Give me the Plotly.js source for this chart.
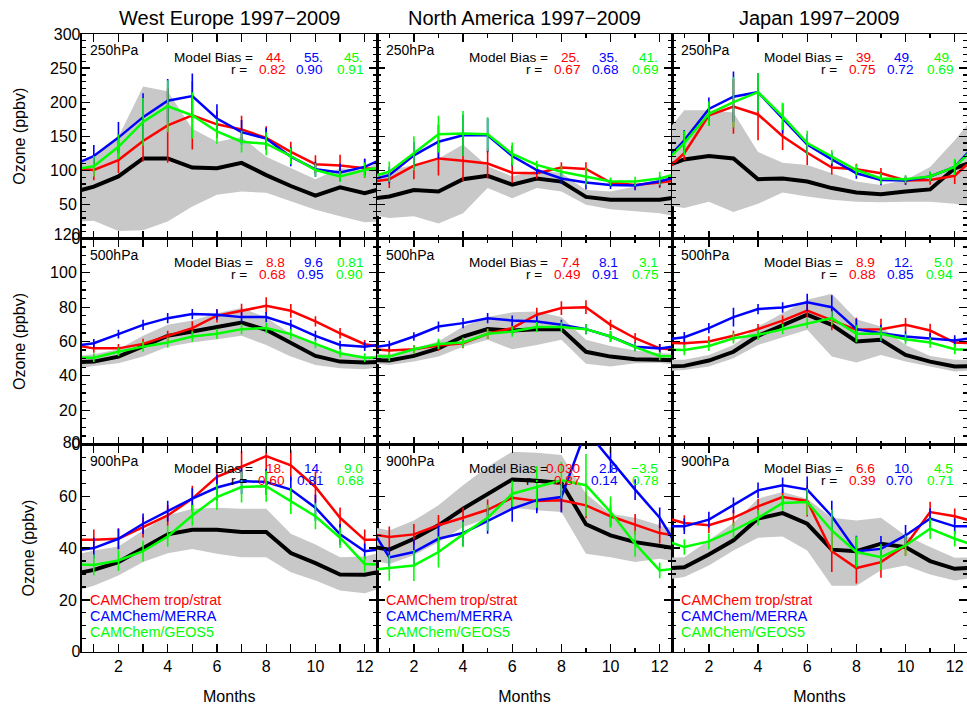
<!DOCTYPE html>
<html><head><meta charset="utf-8">
<script src="https://cdn.plot.ly/plotly-3.0.1.min.js"></script>
<style>html,body{margin:0;padding:0;background:#fff;} #chart{width:967px;height:705px;}</style>
</head><body><div id="chart"></div>
<script>
// ---------- data ----------
const months = [1,2,3,4,5,6,7,8,9,10,11,12];
const regionTitles = ['West Europe 1997\u22122009', 'North America 1997\u22122009', 'Japan 1997\u22122009'];
const levelLabels = ['250hPa', '500hPa', '900hPa'];
const modelNames = ['CAMChem trop/strat', 'CAMChem/MERRA', 'CAMChem/GEOS5'];
const yRanges = [[0, 300], [0, 120], [0, 80]];
const yTickVals = [[0, 50, 100, 150, 200, 250, 300], [0, 20, 40, 60, 80, 100, 120], [0, 20, 40, 60, 80]];
const yMinorSteps = [10, 5, 5];
const xTickVals = [2, 4, 6, 8, 10, 12];

// West Europe 250 hPa
const WE250_obs   = [76, 91, 117.5, 117.5, 104, 103, 111, 93, 77, 63, 75, 66.5];
const WE250_hi    = [122, 149, 223, 216, 161, 142, 149, 120, 103, 87, 103, 100];
const WE250_lo    = [26, 11, 12, 25, 47, 64, 69, 67, 54, 42, 32.5, 24];
const WE250_red   = [100.5, 115, 143, 166, 180.6, 167.5, 160, 147.6, 127, 109, 107, 103];
const WE250_blue  = [121, 148, 178, 202, 209, 176, 156, 146.6, 120, 101.5, 97, 105];
const WE250_green = [106, 134.5, 171, 194, 180.6, 157, 142, 139, 121, 100.5, 91, 100.5];
const WE250_redErr   = [15, 19, 30, 55, 50, 20, 20, 17, 15, 13, 16, 14];
const WE250_blueErr  = [16, 23, 35, 32, 33, 21, 18, 16, 14, 11, 13, 12];
const WE250_greenErr = [15, 18, 35, 38, 34, 18, 16, 17, 12, 10, 8, 11];
// North America 250 hPa
const NA250_obs   = [61.6, 71, 69, 87, 92, 79, 88, 83.5, 61, 57, 57, 57];
const NA250_hi    = [100, 108, 117, 138, 106, 91, 100, 96, 71, 69, 76, 83.5];
const NA250_lo    = [30, 32.5, 22, 37, 74, 59, 74, 69, 49.5, 43, 40, 37];
const NA250_red   = [87, 107, 117.5, 114, 110, 96.6, 95.6, 104, 102, 82, 78.6, 82];
const NA250_blue  = [93, 122, 142, 151.5, 151.5, 121, 100.5, 88, 82, 78.6, 77.7, 84];
const NA250_green = [98, 125, 153, 154, 153, 124, 108, 98, 91, 83.5, 83.5, 88];
const NA250_redErr   = [13, 20, 25, 30, 22, 15, 8, 8, 10, 6, 7, 8];
const NA250_blueErr  = [12, 20, 25, 30, 25, 15, 6, 8, 10, 6, 7, 8];
const NA250_greenErr = [15, 25, 27, 33, 25, 17, 6, 8, 12, 6, 7, 10];
// Japan 250 hPa
const JP250_obs   = [116, 121, 117.5, 87, 88, 83.5, 74, 67.5, 65, 69, 72, 103];
const JP250_hi    = [188, 188, 185, 127, 111, 108, 96, 83.5, 78.6, 86, 105, 144];
const JP250_lo    = [44.7, 54, 39, 51, 67.5, 61.7, 57, 54, 53, 54, 54, 51];
const JP250_red   = [125, 180.6, 193.7, 182, 150, 125.7, 104, 101.5, 95.6, 85, 86, 92];
const JP250_blue  = [144, 190, 208, 214.6, 176, 138, 116, 95.6, 86, 85, 91, 105];
const JP250_green = [140, 183, 200, 214.6, 179, 140, 120, 100.5, 88, 87, 91, 105];
const JP250_redErr   = [10, 15, 40, 38, 20, 18, 10, 8, 8, 6, 7, 12];
const JP250_blueErr  = [15, 17, 37, 28, 22, 15, 10, 8, 8, 6, 7, 10];
const JP250_greenErr = [18, 18, 37, 28, 20, 18, 10, 8, 8, 6, 7, 12];
// West Europe 500 hPa
const WE500_obs   = [48.3, 51.2, 57, 63.3, 65.8, 68.4, 71, 66.8, 59, 51.6, 48.3, 47.7];
const WE500_hi    = [52.6, 55.5, 63.3, 69.7, 72.2, 76.5, 79.5, 74, 64.3, 58, 52.8, 51.2];
const WE500_lo    = [45.8, 47.3, 51.2, 57, 59.4, 61.3, 63.3, 58, 51.2, 46.3, 44.4, 43.8];
const WE500_red   = [56, 56, 58.6, 63.3, 67.8, 75, 78, 80.8, 77.9, 71.7, 64.8, 58.4];
const WE500_blue  = [59, 64.3, 69.7, 73.6, 76, 75.6, 74.2, 74.2, 69.7, 63.3, 58, 57];
const WE500_green = [50.6, 54, 57, 59.4, 62.9, 64.5, 67.2, 67.8, 64.3, 58.6, 53.2, 50.6];
const WE500_redErr   = [2.5, 2.5, 3, 3, 4, 4, 4, 5, 4, 3, 3, 2.5];
const WE500_blueErr  = [2.5, 2.5, 3, 3, 3, 3, 3, 3, 3, 3, 2.5, 2.5];
const WE500_greenErr = [2.5, 2.5, 3, 3, 3, 3, 3, 3, 3, 2.5, 2.5, 2.5];
// North America 500 hPa
const NA500_obs   = [48.9, 51.6, 56, 62.9, 67.2, 66.4, 67.2, 67.2, 54, 51.2, 49.7, 49.3];
const NA500_hi    = [52.6, 56, 60, 68.7, 74.2, 77, 77.5, 74.2, 61, 57.4, 54.7, 53.2];
const NA500_lo    = [46.3, 48.3, 51.2, 57, 61, 55.5, 58, 61, 47, 45.4, 47.3, 47.5];
const NA500_red   = [54.7, 55.5, 57.6, 59, 64.5, 67.8, 75.6, 79.5, 80, 69.7, 61.9, 56];
const NA500_blue  = [58, 62.9, 68.7, 70.7, 73.6, 72.2, 71.7, 69.7, 67.2, 62.9, 57, 56];
const NA500_green = [51.2, 55.5, 58.6, 59.4, 64.5, 65.8, 68.4, 68.4, 67.2, 62.9, 56.7, 51.6];
const NA500_redErr   = [2.5, 2.5, 3, 3, 3, 3, 4, 4, 4, 3, 3, 2.5];
const NA500_blueErr  = [2.5, 2.5, 3, 3, 3, 3, 3, 3, 3, 3, 2.5, 2.5];
const NA500_greenErr = [2.5, 2.5, 3, 3, 3, 3, 3, 3, 3, 3, 2.5, 2.5];
// Japan 500 hPa
const JP500_obs   = [45.8, 48.9, 54, 63.3, 69.7, 75.6, 69.7, 60, 61, 52.2, 48.3, 45.4];
const JP500_hi    = [49.3, 52.2, 58, 68.7, 76.5, 84.3, 87.8, 73, 68.7, 58, 51.6, 49.3];
const JP500_lo    = [43.4, 45.4, 50.2, 58, 62.5, 66.8, 51.2, 47.7, 52.2, 48.3, 45.4, 42.5];
const JP500_red   = [59, 60, 63.3, 67.2, 72.2, 78, 72.6, 66.8, 67.2, 69.7, 66.4, 59.4];
const JP500_blue  = [62.5, 67.8, 74.2, 78.9, 79.8, 82.8, 80, 67.2, 64.8, 62.9, 61.9, 60.6];
const JP500_green = [55, 57.4, 61.9, 63.9, 67.2, 70.7, 73.6, 64.5, 64.5, 61.3, 59.4, 55.5];
const JP500_redErr   = [3, 3, 3, 3, 3, 4, 6, 7, 6, 4, 4, 3];
const JP500_blueErr  = [3, 3, 5.5, 3, 3, 5, 7, 6, 5, 3, 3, 3];
const JP500_greenErr = [3, 3, 3, 3, 3, 3, 4, 5, 4, 3, 3, 3];
// West Europe 900 hPa
const WE900_obs   = [31.6, 34.6, 40.1, 45.3, 47.1, 47.1, 46.2, 46.2, 38.1, 34.2, 29.8, 29.7];
const WE900_hi    = [39.1, 40.6, 46.8, 52.6, 55.2, 55.6, 55.2, 55.2, 45.5, 41.4, 36.5, 36.8];
const WE900_lo    = [25.5, 29.4, 34.6, 38, 39.7, 37.8, 36.5, 36.5, 30.7, 27.5, 23.6, 22.6];
const WE900_red   = [43.2, 43.6, 48.1, 52.6, 59.1, 67.5, 71.4, 75.5, 72, 63.6, 51.7, 43.2];
const WE900_blue  = [40, 43.6, 49.4, 54.3, 59.1, 63.4, 65.9, 65.5, 62.6, 55.6, 45.3, 38.8];
const WE900_green = [33.5, 35.2, 38.8, 44.5, 52.6, 59.7, 63.6, 63.9, 58.2, 52.3, 44, 33.9];
const WE900_redErr   = [4, 4, 4, 4, 5, 5, 6, 6, 6, 6, 4, 4];
const WE900_blueErr  = [4, 4, 4, 4, 4, 5, 5, 5, 5, 5, 4, 3];
const WE900_greenErr = [4, 4, 4, 4, 4, 5, 6, 6, 5, 5, 4, 3];
// North America 900 hPa
const NA900_obs   = [39.4, 43.6, 48.8, 55.2, 61, 66.5, 66, 65.2, 49.2, 44.9, 42.3, 41];
const NA900_hi    = [46.8, 50.7, 56.5, 64.3, 71.4, 77.2, 76.8, 75.9, 61, 53.3, 51.7, 48.8];
const NA900_lo    = [33.9, 37.2, 42.3, 48.1, 51.4, 55.6, 54.6, 53.9, 37.8, 36.5, 34.6, 35.9];
const NA900_red   = [44.3, 45.3, 48.8, 51.7, 54.8, 59.4, 58.2, 58.5, 56.5, 52.3, 49.2, 45.8];
const NA900_blue  = [36.4, 38.5, 43.6, 45.8, 50.5, 55.2, 58.5, 59.7, 85.5, 74, 62.6, 51.7];
const NA900_green = [32.4, 33.3, 38.5, 45.3, 51.7, 61, 63.6, 66.2, 64.3, 53.9, 41.7, 31.4];
const NA900_redErr   = [4, 4, 4, 4, 4, 4, 4, 4, 5, 4, 4, 4];
const NA900_blueErr  = [4, 5, 5, 5, 5, 5, 5, 6, 6, 5, 4, 4];
const NA900_greenErr = [5, 6, 6, 5, 5, 5, 8, 7, 12, 6, 5, 3];
// Japan 900 hPa
const JP900_obs   = [32.6, 37.5, 43, 51.4, 53.5, 49.4, 39.4, 38.8, 41.7, 40.4, 35, 32];
const JP900_hi    = [36.5, 43, 49.7, 59.1, 61.7, 59.1, 51.7, 50.7, 51.7, 44.9, 40.4, 36.3];
const JP900_lo    = [28.8, 33.3, 39.1, 44, 44.5, 39.1, 25.5, 25.5, 31.4, 33.3, 29.8, 27.5];
const JP900_red   = [49.7, 48.8, 51.7, 56.1, 59.7, 58.2, 38.8, 32.3, 34.6, 41, 53.9, 52.3];
const JP900_blue  = [48.4, 51, 56.5, 62.3, 64.3, 62.6, 52.3, 38.8, 39.7, 44.9, 51.4, 48.4];
const JP900_green = [40.4, 42.6, 46.8, 51.7, 57.4, 57.8, 46.8, 38.5, 36.5, 41, 47.5, 43.6];
const JP900_redErr   = [3, 3, 3, 3, 3, 6, 8, 6, 6, 4, 4, 3];
const JP900_blueErr  = [3, 3, 3, 3, 3, 5, 6, 6, 5, 4, 4, 3];
const JP900_greenErr = [3, 3, 3, 3, 3, 5, 8, 6, 5, 4, 4, 3];

// Model bias and correlation labels (red, blue, green) per panel, row-major
const biasText = [
  ['44.', '55.', '45.'], ['25.', '35.', '41.'], ['39.', '49.', '49.'],
  ['8.8', '9.6', '0.81'], ['7.4', '8.1', '3.1'], ['8.9', '12.', '5.0'],
  ['18.', '14.', '9.0'], ['0.030', '2.8', '\u22123.5'], ['6.6', '10.', '4.5']
];
const rText = [
  ['0.82', '0.90', '0.91'], ['0.67', '0.68', '0.69'], ['0.75', '0.72', '0.69'],
  ['0.68', '0.95', '0.90'], ['0.49', '0.91', '0.75'], ['0.88', '0.85', '0.94'],
  ['0.60', '0.81', '0.68'], ['0.87', '0.14', '0.78'], ['0.39', '0.70', '0.71']
];

const panels = [
  [WE250_obs, WE250_lo, WE250_hi, [WE250_red, WE250_blue, WE250_green], [WE250_redErr, WE250_blueErr, WE250_greenErr]],
  [NA250_obs, NA250_lo, NA250_hi, [NA250_red, NA250_blue, NA250_green], [NA250_redErr, NA250_blueErr, NA250_greenErr]],
  [JP250_obs, JP250_lo, JP250_hi, [JP250_red, JP250_blue, JP250_green], [JP250_redErr, JP250_blueErr, JP250_greenErr]],
  [WE500_obs, WE500_lo, WE500_hi, [WE500_red, WE500_blue, WE500_green], [WE500_redErr, WE500_blueErr, WE500_greenErr]],
  [NA500_obs, NA500_lo, NA500_hi, [NA500_red, NA500_blue, NA500_green], [NA500_redErr, NA500_blueErr, NA500_greenErr]],
  [JP500_obs, JP500_lo, JP500_hi, [JP500_red, JP500_blue, JP500_green], [JP500_redErr, JP500_blueErr, JP500_greenErr]],
  [WE900_obs, WE900_lo, WE900_hi, [WE900_red, WE900_blue, WE900_green], [WE900_redErr, WE900_blueErr, WE900_greenErr]],
  [NA900_obs, NA900_lo, NA900_hi, [NA900_red, NA900_blue, NA900_green], [NA900_redErr, NA900_blueErr, NA900_greenErr]],
  [JP900_obs, JP900_lo, JP900_hi, [JP900_red, JP900_blue, JP900_green], [JP900_redErr, JP900_blueErr, JP900_greenErr]]
];

// ---------- styles / layout ----------
const W = 967, H = 705;
const modelColors = ['#ff0000', '#0000ff', '#00ff00'];
const FONT = 'Liberation Sans, Arial, Helvetica, sans-serif';
const colPx = [[81.5, 377], [377, 672], [672, 967]];
const rowPx = [[34, 238.5], [238.5, 444.5], [444.5, 651.7]];
// vertical nudges of the end tick labels (px, + = up) for [bottom label, top label]
const endLabelShift = [[5.5, -2.5], [5.5, -4], [3.7, -2]];

// periodic wrap: December before January, January after December
const xWrap = [0].concat(months, [13]);
const wrap = a => [a[11]].concat(a, [a[0]]);
const wrapErr = a => [0].concat(a, [0]);

const traces = [];
const layout = {
  width: W, height: H,
  margin: {l: 0, r: 0, t: 0, b: 0},
  paper_bgcolor: '#fff', plot_bgcolor: 'rgba(0,0,0,0)',
  showlegend: false,
  font: {family: FONT, color: '#000', size: 14},
  annotations: []
};
const tickFont = {size: 16, family: FONT, color: '#000'};
let extraAxis = 10;

panels.forEach((p, i) => {
  const row = Math.floor(i / 3), col = i % 3;
  const k = i + 1;
  const xa = 'x' + (k > 1 ? k : ''), ya = 'y' + (k > 1 ? k : '');
  const [obs, lo, hi, models, errs] = p;
  traces.push({x: xWrap, y: wrap(lo), xaxis: xa, yaxis: ya, mode: 'lines',
    line: {width: 0, color: '#c8c8c8'}, hoverinfo: 'skip'});
  traces.push({x: xWrap, y: wrap(hi), xaxis: xa, yaxis: ya, mode: 'lines', fill: 'tonexty',
    fillcolor: '#c8c8c8', line: {width: 0, color: '#c8c8c8'}, hoverinfo: 'skip'});
  traces.push({x: xWrap, y: wrap(obs), xaxis: xa, yaxis: ya, mode: 'lines',
    line: {width: 4, color: '#000'}});
  models.forEach((m, j) => {
    traces.push({x: xWrap, y: wrap(m), xaxis: xa, yaxis: ya, mode: 'lines', name: modelNames[j],
      line: {width: 2.5, color: modelColors[j]},
      error_y: {type: 'data', array: wrapErr(errs[j]), visible: true, color: modelColors[j], thickness: 1.6, width: 0}});
  });

  const common = {
    showline: true, linecolor: '#000', linewidth: 1.5, mirror: 'allticks',
    ticks: 'inside', ticklen: 8, tickwidth: 1.3, tickcolor: '#000',
    showgrid: false, zeroline: false, fixedrange: true, tickfont: tickFont
  };
  const xDom = [colPx[col][0] / W, colPx[col][1] / W];
  const yDom = [1 - rowPx[row][1] / H, 1 - rowPx[row][0] / H];
  layout['xaxis' + (k > 1 ? k : '')] = Object.assign({}, common, {
    domain: xDom, anchor: ya, range: [0.5, 12.5],
    tickmode: 'array', tickvals: xTickVals, ticktext: xTickVals.map(String),
    minor: {dtick: 1, tick0: 0, ticks: 'inside', ticklen: 4, tickwidth: 1.3, tickcolor: '#000'},
    showticklabels: row === 2,
    title: row === 2 ? {text: 'Months', font: {size: 16, family: FONT}, standoff: 17} : {text: ''}
  });
  const tv = yTickVals[row];
  layout['yaxis' + (k > 1 ? k : '')] = Object.assign({}, common, {
    domain: yDom, anchor: xa, range: yRanges[row],
    tickmode: 'array', tickvals: tv,
    ticktext: tv.map((v, n) => (n === 0 || n === tv.length - 1) ? '' : String(v)),
    minor: {dtick: yMinorSteps[row], tick0: 0, ticks: 'inside', ticklen: 4, tickwidth: 1.3, tickcolor: '#000'},
    showticklabels: col === 0,
    title: col === 0 ? {text: 'Ozone (ppbv)', font: {size: 16, family: FONT}, standoff: 20} : {text: ''}
  });
  if (col === 0) {
    // end labels of the y axis, nudged inward as in the reference
    [0, tv.length - 1].forEach((n, e) => {
      const name = 'yaxis' + extraAxis, id = 'y' + extraAxis;
      extraAxis++;
      layout[name] = {
        overlaying: ya, anchor: xa, side: 'left', range: yRanges[row],
        tickmode: 'array', tickvals: [tv[n]], ticktext: [String(tv[n])],
        ticks: '', showline: false, showgrid: false, zeroline: false, fixedrange: true,
        tickfont: tickFont, ticklabelshift: endLabelShift[row][e]
      };
      traces.push({x: [], y: [], xaxis: xa, yaxis: id, mode: 'lines', hoverinfo: 'skip'});
    });
  }

  const xd = xa + ' domain', yd = ya + ' domain';
  const ann = layout.annotations;
  ann.push({xref: xd, yref: yd, x: 0, y: 1, xanchor: 'left', yanchor: 'middle', xshift: 6.5, yshift: -16,
    text: levelLabels[row], showarrow: false, font: {size: 14}});
  ann.push({xref: xd, yref: yd, x: 1, y: 1, xanchor: 'right', yanchor: 'middle', xshift: -122, yshift: -24,
    text: 'Model Bias =', showarrow: false, font: {size: 13.6}});
  ann.push({xref: xd, yref: yd, x: 1, y: 1, xanchor: 'right', yanchor: 'middle', xshift: -128, yshift: -36,
    text: 'r =', showarrow: false, font: {size: 13.6}});
  const valShift = [-90, -52, -12];
  for (let j = 0; j < 3; j++) {
    ann.push({xref: xd, yref: yd, x: 1, y: 1, xanchor: 'right', yanchor: 'middle', xshift: valShift[j], yshift: -24,
      text: biasText[i][j], showarrow: false, font: {size: 13.6, color: modelColors[j]}});
    ann.push({xref: xd, yref: yd, x: 1, y: 1, xanchor: 'right', yanchor: 'middle', xshift: valShift[j], yshift: -36,
      text: rText[i][j], showarrow: false, font: {size: 13.6, color: modelColors[j]}});
  }
  if (row === 2) {
    const legY = [51.7, 35.9, 20.2];
    for (let j = 0; j < 3; j++) {
      ann.push({xref: xd, yref: yd, x: 0, y: 0, xanchor: 'left', yanchor: 'middle', xshift: 6.5, yshift: legY[j],
        text: modelNames[j], showarrow: false, font: {size: 14.4, color: modelColors[j]}});
    }
  }
});

regionTitles.forEach((t, c) => {
  layout.annotations.push({xref: 'paper', yref: 'paper',
    x: (colPx[c][0] + colPx[c][1]) / 2 / W, y: 1 - 18 / H, xanchor: 'center', yanchor: 'middle',
    text: t, showarrow: false, font: {size: 20}});
});

Plotly.newPlot('chart', traces, layout, {staticPlot: true, displayModeBar: false});
</script>
</body></html>
